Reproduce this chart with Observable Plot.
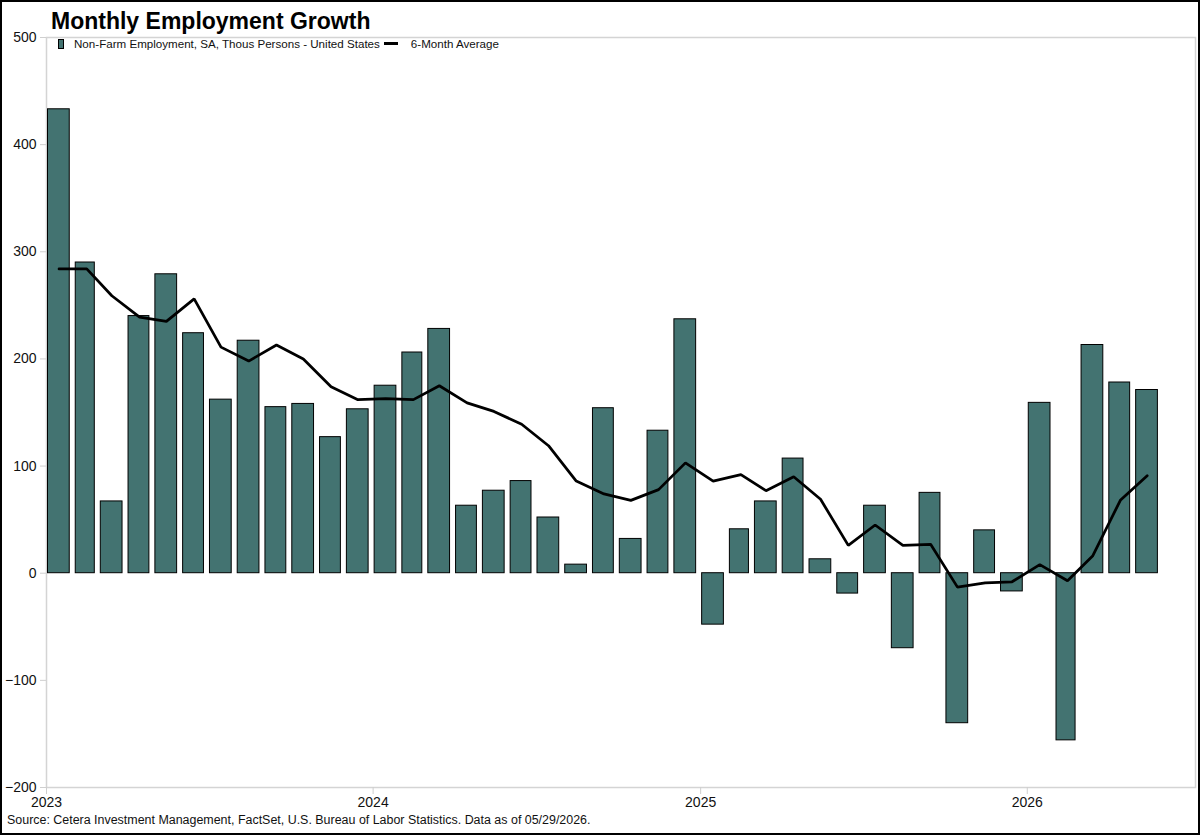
<!DOCTYPE html>
<html>
<head>
<meta charset="utf-8">
<script src="https://cdn.jsdelivr.net/npm/d3@7"></script>
<script src="https://cdn.jsdelivr.net/npm/@observablehq/plot@0.6"></script>
<style>
  html, body { margin: 0; padding: 0; background: #fff; }
  #wrap {
    position: relative; width: 1200px; height: 835px; box-sizing: border-box;
    border: 2px solid #000; background: #fff; overflow: hidden;
    font-family: "Liberation Sans", Arial, sans-serif; color: #000;
  }
  #title {
    position: absolute; left: 49px; top: 7.5px; font-size: 23px; line-height: 23px;
    font-weight: bold; white-space: nowrap;
  }
  #legend {
    position: absolute; left: 56px; top: 35.5px; font-size: 11.6px; line-height: 12px;
    display: flex; align-items: center; white-space: nowrap; color: #111;
  }
  .sw-bar { display: inline-block; width: 4px; height: 8px; background: #437371; border: 1px solid #000; margin-right: 10px; }
  .sw-line { display: inline-block; width: 14px; height: 3px; background: #000; margin-left: 4px; margin-right: 13px; }
  #chart { position: absolute; left: 0; top: 0; }
  #caption {
    position: absolute; left: 5px; top: 812px; font-size: 12.45px; line-height: 12px; white-space: nowrap; color: #111;
  }
</style>
</head>
<body>
<div id="wrap">
  <div id="chart"></div>
  <div id="title">Monthly Employment Growth</div>
  <div id="legend"><span class="sw-bar"></span>Non-Farm Employment, SA, Thous Persons - United States<span class="sw-line"></span>6-Month Average</div>
  <div id="caption">Source: Cetera Investment Management, FactSet, U.S. Bureau of Labor Statistics. Data as of 05/29/2026.</div>
</div>
<script>
const monthLabels = [
  "2023-01","2023-02","2023-03","2023-04","2023-05","2023-06","2023-07","2023-08","2023-09","2023-10","2023-11","2023-12",
  "2024-01","2024-02","2024-03","2024-04","2024-05","2024-06","2024-07","2024-08","2024-09","2024-10","2024-11","2024-12",
  "2025-01","2025-02","2025-03","2025-04","2025-05","2025-06","2025-07","2025-08","2025-09","2025-10","2025-11","2025-12",
  "2026-01","2026-02","2026-03","2026-04","2026-05"
];
const payrolls = [
  433, 290, 67, 240, 279, 224, 162, 217, 155, 158, 127, 153,
  175, 206, 228, 63, 77, 86, 52, 8, 154, 32, 133, 237,
  -48, 41, 67, 107, 13, -19, 63, -70, 75, -140, 40, -17,
  159, -156, 213, 178, 171
];
const avg6 = [
  284, 284, 259, 239, 235, 256, 211, 198, 213, 200, 174, 162,
  163, 162, 175, 159, 151, 139, 119, 86, 74, 68, 78, 103,
  86, 92, 77, 90, 69, 26, 45, 26, 27, -13, -9, -8,
  8, -7, 16, 68, 91
];
const yTicks = [-200, -100, 0, 100, 200, 300, 400, 500];
const xTickYears = ["2023-01-01", "2024-01-01", "2025-01-01", "2026-01-01"];
const xDomain = ["2023-01-01", "2026-07-08"];

const parse = d3.utcParse("%Y-%m");
const parseDay = d3.utcParse("%Y-%m-%d");
const data = monthLabels.map((m, i) => ({date: parse(m), value: payrolls[i], avg: avg6[i]}));

const chart = Plot.plot({
  width: 1196,
  height: 810,
  marginLeft: 44,
  marginRight: 3,
  marginTop: 35,
  marginBottom: 25,
  style: {background: "#fff", fontFamily: "'Liberation Sans', Arial, sans-serif", fontSize: "14px", color: "#000"},
  x: {type: "utc", domain: xDomain.map(parseDay)},
  y: {domain: [-200, 500]},
  marks: [
    Plot.frame({stroke: "#d4d4d4", strokeWidth: 1.5}),
    Plot.rectY(data, {
      x1: "date",
      x2: d => d3.utcMonth.offset(d.date, 1),
      y1: 0,
      y2: "value",
      insetLeft: 1.5,
      insetRight: 4.5,
      fill: "#437371",
      stroke: "#000",
      strokeWidth: 1
    }),
    Plot.lineY(data, {
      x: d => d3.utcDay.offset(d.date, 14),
      y: "avg",
      stroke: "#000",
      strokeWidth: 2.75,
      strokeLinejoin: "miter"
    }),
    Plot.axisY({ticks: yTicks, tickSize: 6, tickPadding: 4, stroke: "#cfcfcf", fill: "#111", label: null, fontSize: 14}),
    Plot.axisX({ticks: xTickYears.map(parseDay), tickSize: 7, tickPadding: 3, tickFormat: d3.utcFormat("%Y"), stroke: "#cfcfcf", fill: "#111", label: null, fontSize: 14})
  ]
});
document.getElementById("chart").appendChild(chart);
</script>
</body>
</html>
